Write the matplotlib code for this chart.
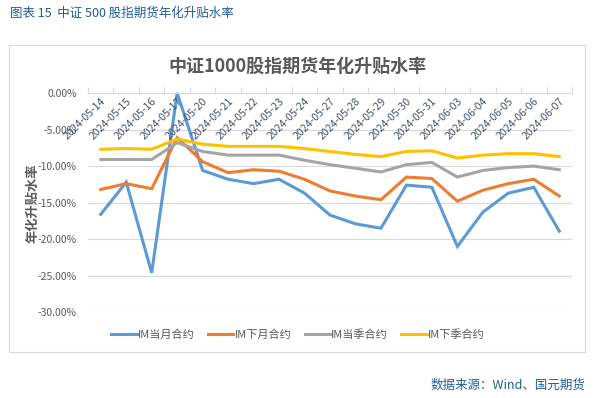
import matplotlib.pyplot as plt
from matplotlib.patches import Rectangle
from matplotlib.ticker import FuncFormatter, FixedLocator

plt.rcParams['font.family'] = ['Noto Sans CJK SC', 'DejaVu Sans']

dates = ['2024-05-14', '2024-05-15', '2024-05-16', '2024-05-17', '2024-05-20',
         '2024-05-21', '2024-05-22', '2024-05-23', '2024-05-24', '2024-05-27',
         '2024-05-28', '2024-05-29', '2024-05-30', '2024-05-31', '2024-06-03',
         '2024-06-04', '2024-06-05', '2024-06-06', '2024-06-07']

# 年化升贴水率 (%)
im_cur_month = [-16.6, -12.2, -24.6, 0.0, -10.6, -11.8, -12.4, -11.8, -13.7, -16.7,
                -17.9, -18.5, -12.6, -12.9, -21.0, -16.3, -13.7, -12.9, -18.9]
im_next_month = [-13.2, -12.4, -13.1, -6.1, -9.4, -10.9, -10.5, -10.7, -11.8, -13.4,
                 -14.1, -14.6, -11.5, -11.7, -14.8, -13.3, -12.4, -11.8, -14.1]
im_cur_quarter = [-9.1, -9.1, -9.1, -6.8, -8.0, -8.5, -8.5, -8.5, -9.2, -9.8,
                  -10.3, -10.8, -9.8, -9.5, -11.5, -10.6, -10.2, -10.0, -10.5]
im_next_quarter = [-7.7, -7.6, -7.7, -6.3, -7.0, -7.3, -7.3, -7.3, -7.6, -8.0,
                   -8.4, -8.7, -8.0, -7.9, -8.9, -8.5, -8.3, -8.3, -8.7]

series = [('IM当月合约', im_cur_month, '#5B9BD5'),
          ('IM下月合约', im_next_month, '#ED7D31'),
          ('IM当季合约', im_cur_quarter, '#A5A5A5'),
          ('IM下季合约', im_next_quarter, '#FFC000')]

W, H = 601, 398
fig = plt.figure(figsize=(W / 100, H / 100), dpi=100)
ax = fig.add_axes([88 / W, 1 - 312.3 / H, (572 - 88) / W, (312.3 - 93) / H])

x = list(range(len(dates)))
for name, vals, col in series:
    ax.plot(x, vals, color=col, lw=2.2, label=name, clip_on=False,
            solid_joinstyle='miter')

ax.set_xlim(-0.5, len(dates) - 0.5)
ax.set_ylim(-30, 0)
ax.set_yticks([0, -5, -10, -15, -20, -25, -30])
ax.yaxis.set_major_formatter(FuncFormatter(lambda v, p: f'{v:.2f}%'))
ax.grid(axis='y', color='#D9D9D9', lw=0.8)
ax.set_axisbelow(True)
for s in ['left', 'right', 'bottom']:
    ax.spines[s].set_visible(False)
ax.spines['top'].set_color('#D9D9D9')
ax.spines['top'].set_linewidth(0.8)
ax.tick_params(axis='y', length=0, pad=8, labelsize=7.5, labelcolor='#595959')

# category boundary tick marks on top axis
ax.xaxis.set_major_locator(FixedLocator([i - 0.5 for i in range(len(dates) + 1)]))
ax.xaxis.set_ticklabels([])
ax.tick_params(axis='x', bottom=False, top=True, direction='out', length=4,
               color='#D9D9D9', width=0.8)

for xi, d in zip(x, dates):
    ax.annotate(d, (xi, 1), xycoords=('data', 'axes fraction'), xytext=(5, -2),
                textcoords='offset points', rotation=45, ha='right', va='top',
                fontsize=7.6, color='#44546A')

fig.text(297 / W, 1 - 66 / H, '中证1000股指期货年化升贴水率', ha='center', va='center',
         fontsize=13, fontweight='bold', color='#595959')
fig.text(32 / W, 1 - 203 / H, '年化升贴水率', rotation=90, ha='center', va='center',
         fontsize=9.5, fontweight='bold', color='#595959')

fig.legend(loc='center', bbox_to_anchor=(298 / W, 1 - 335 / H), ncol=4, frameon=False,
           fontsize=8, handlelength=2.3, handletextpad=0.1, columnspacing=1.2,
           labelcolor='#595959')

fig.add_artist(Rectangle((9 / W, 1 - 352 / H), 576 / W, 307 / H, transform=fig.transFigure,
                         fill=False, edgecolor='#D9D9D9', lw=0.8))

fig.text(10 / W, 1 - 13 / H, '图表 15  中证 500 股指期货年化升贴水率', ha='left', va='center',
         fontsize=9, color='#1F5C99')
fig.text(585 / W, 1 - 385 / H, '数据来源：Wind、国元期货', ha='right', va='center',
         fontsize=9, color='#1F5C99')

fig.savefig('out.png', dpi=100)
